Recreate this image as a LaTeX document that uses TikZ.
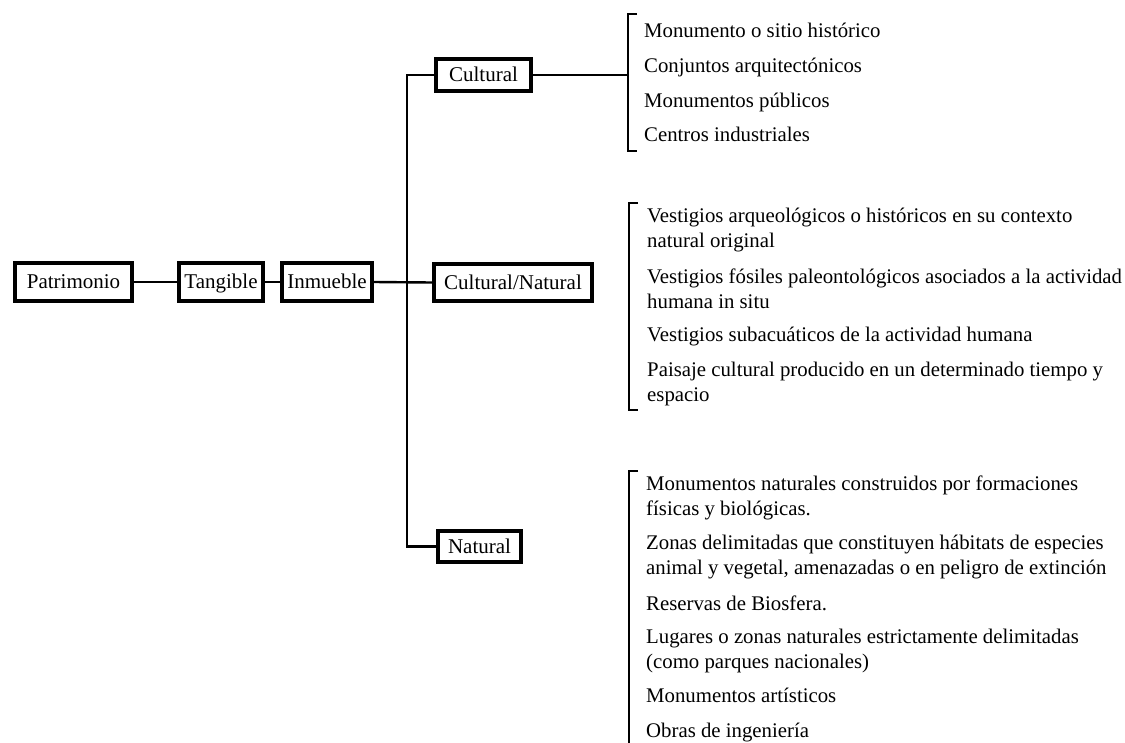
\documentclass[tikz,border=0pt]{standalone}
\usepackage{fontspec}
\setmainfont{Liberation Serif}
\begin{document}
\begin{tikzpicture}[x=1pt,y=-1pt,
  box/.style={draw,line width=4.2pt,inner sep=0pt,text height=16pt,text depth=2.5pt,font=\fontsize{21}{25}\selectfont},
  conn/.style={line width=2.4pt},
  brk/.style={line width=2.8pt},
  item/.style={anchor=west,inner sep=0pt,align=left,font=\fontsize{20.8}{25}\selectfont},
  one/.style={item,text height=17pt,text depth=1.5pt}]
\useasboundingbox (0,0) rectangle (1125,742);
% boxes
\node[box,minimum width=117pt,minimum height=38pt] (pat) at (73.5,282) {Patrimonio};
\node[box,minimum width=84pt,minimum height=38pt] (tan) at (221,282) {Tangible};
\node[box,minimum width=90pt,minimum height=38pt] (inm) at (327,282) {Inmueble};
\node[box,minimum width=95pt,minimum height=32pt] (cul) at (483.5,75) {Cultural};
\node[box,minimum width=158pt,minimum height=37pt] (cn) at (513,282.5) {Cultural/Natural};
\node[box,minimum width=83pt,minimum height=31pt] (nat) at (479.5,546.5) {Natural};
% connectors
\coordinate (vt) at (407,75);
\coordinate (vb) at (407,546.5);
\coordinate (bc) at (628,75);
\draw[conn] (pat.east) -- (tan.west);
\draw[conn] (tan.east) -- (inm.west);
\draw[conn] (inm.east) -- (cn.west);
\draw[conn] (cul.west) -- (vt) -- (vb) -- (nat.west);
\draw[conn] (cul.east) -- (bc);
% brackets
\draw[brk] (637,14) -- (628,14) -- (628,151) -- (637,151);
\draw[brk] (638,203) -- (629,203) -- (629,410) -- (638,410);
\draw[brk] (638,471) -- (629,471) -- (629,745);
% cultural items
\node[one] (c1) at (644,30) {Monumento o sitio histórico};
\node[one] (c2) at (644,65) {Conjuntos arquitectónicos};
\node[one] (c3) at (644,100) {Monumentos públicos};
\node[one] (c4) at (644,134) {Centros industriales};
% cultural/natural items
\node[item] (m1) at (647,230.5) {Vestigios arqueológicos o históricos en su contexto\\natural original};
\node[item] (m2) at (647,289) {Vestigios fósiles paleontológicos asociados a la actividad\\humana in situ};
\node[one] (m3) at (647,334) {Vestigios subacuáticos de la actividad humana};
\node[item] (m4) at (647,383.5) {Paisaje cultural producido en un determinado tiempo y\\espacio};
% natural items
\node[item] (n1) at (646,497.5) {Monumentos naturales construidos por formaciones\\físicas y biológicas.};
\node[item] (n2) at (646,557) {Zonas delimitadas que constituyen hábitats de especies\\animal y vegetal, amenazadas o en peligro de extinción};
\node[one] (n3) at (646,603) {Reservas de Biosfera.};
\node[item] (n4) at (646,650.5) {Lugares o zonas naturales estrictamente delimitadas\\(como parques nacionales)};
\node[one] (n5) at (646,695) {Monumentos artísticos};
\node[one] (n6) at (646,730) {Obras de ingeniería};
\end{tikzpicture}
\end{document}
